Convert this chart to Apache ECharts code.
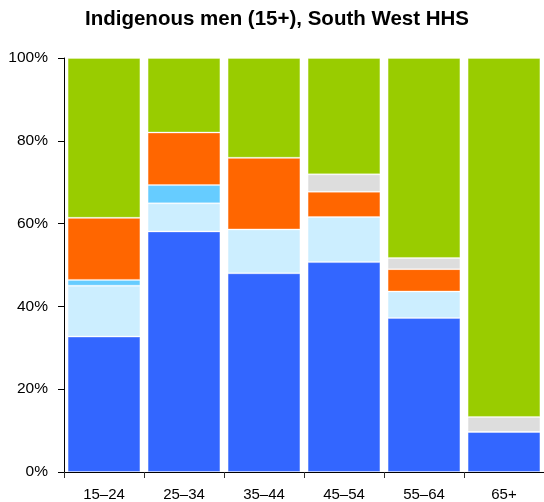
<!DOCTYPE html>
<html>
<head>
<meta charset="utf-8">
<script src="https://cdn.jsdelivr.net/npm/echarts@6/dist/echarts.min.js"></script>
<style>
  html, body { margin: 0; padding: 0; background: #fff; }
  #chart { width: 544px; height: 502px; }
</style>
</head>
<body>
<div id="chart"></div>
<script>
// age groups
const categories = ['15–24', '25–34', '35–44', '45–54', '55–64', '65+'];

// shares in percent, bottom to top
const blueVals      = [32.7, 58.1, 48.0, 50.7, 37.2, 9.7];
const lightBlueVals = [12.3, 6.8, 10.6, 10.9, 6.4, 0];
const skyVals       = [1.4, 4.4, 0, 0, 0, 0];
const orangeVals    = [15.0, 12.7, 17.3, 6.1, 5.4, 0];
const greyVals      = [0, 0, 0, 4.2, 2.7, 3.6];
const greenVals     = [38.6, 18.0, 24.1, 28.1, 48.3, 86.7];

const yTicks = [0, 20, 40, 60, 80, 100];

const font = '"Liberation Sans", Arial, sans-serif';

function layer(name, data, color) {
    return {
        name: name,
        type: 'bar',
        stack: 'total',
        data: data,
        barCategoryGap: '9%',
        itemStyle: {
            color: color,
            borderColor: 'rgba(255,255,255,0.3)',
            borderWidth: 1
        }
    };
}

let chart = echarts.init(document.getElementById('chart'));
chart.setOption({
    animation: false,
    title: {
        text: 'Indigenous men (15+), South West HHS',
        left: 80,
        top: 4,
        textStyle: {
            fontFamily: font,
            fontSize: 20.5,
            fontWeight: 'bold',
            color: '#000'
        }
    },
    grid: {
        left: 64,
        right: 0,
        top: 58,
        bottom: 30
    },
    xAxis: {
        type: 'category',
        data: categories,
        axisLine: { lineStyle: { color: '#000', width: 1 } },
        axisTick: { show: true, length: 6, lineStyle: { color: '#333' } },
        axisLabel: {
            margin: 15,
            fontFamily: font,
            fontSize: 15,
            color: '#000'
        }
    },
    yAxis: {
        type: 'value',
        min: yTicks[0],
        max: yTicks[yTicks.length - 1],
        interval: yTicks[1] - yTicks[0],
        axisLine: { show: true, lineStyle: { color: '#000', width: 1 } },
        axisTick: { show: true, length: 6, lineStyle: { color: '#000' } },
        splitLine: { show: false },
        axisLabel: {
            margin: 16,
            formatter: '{value}%',
            fontFamily: font,
            fontSize: 15.5,
            color: '#000'
        }
    },
    series: [
        layer('Blue', blueVals, '#3366FF'),
        layer('Light blue', lightBlueVals, '#CCEEFF'),
        layer('Sky', skyVals, '#66CCFF'),
        layer('Orange', orangeVals, '#FF6600'),
        layer('Grey', greyVals, '#DDDDDD'),
        layer('Green', greenVals, '#99CC00')
    ]
});
</script>
</body>
</html>
